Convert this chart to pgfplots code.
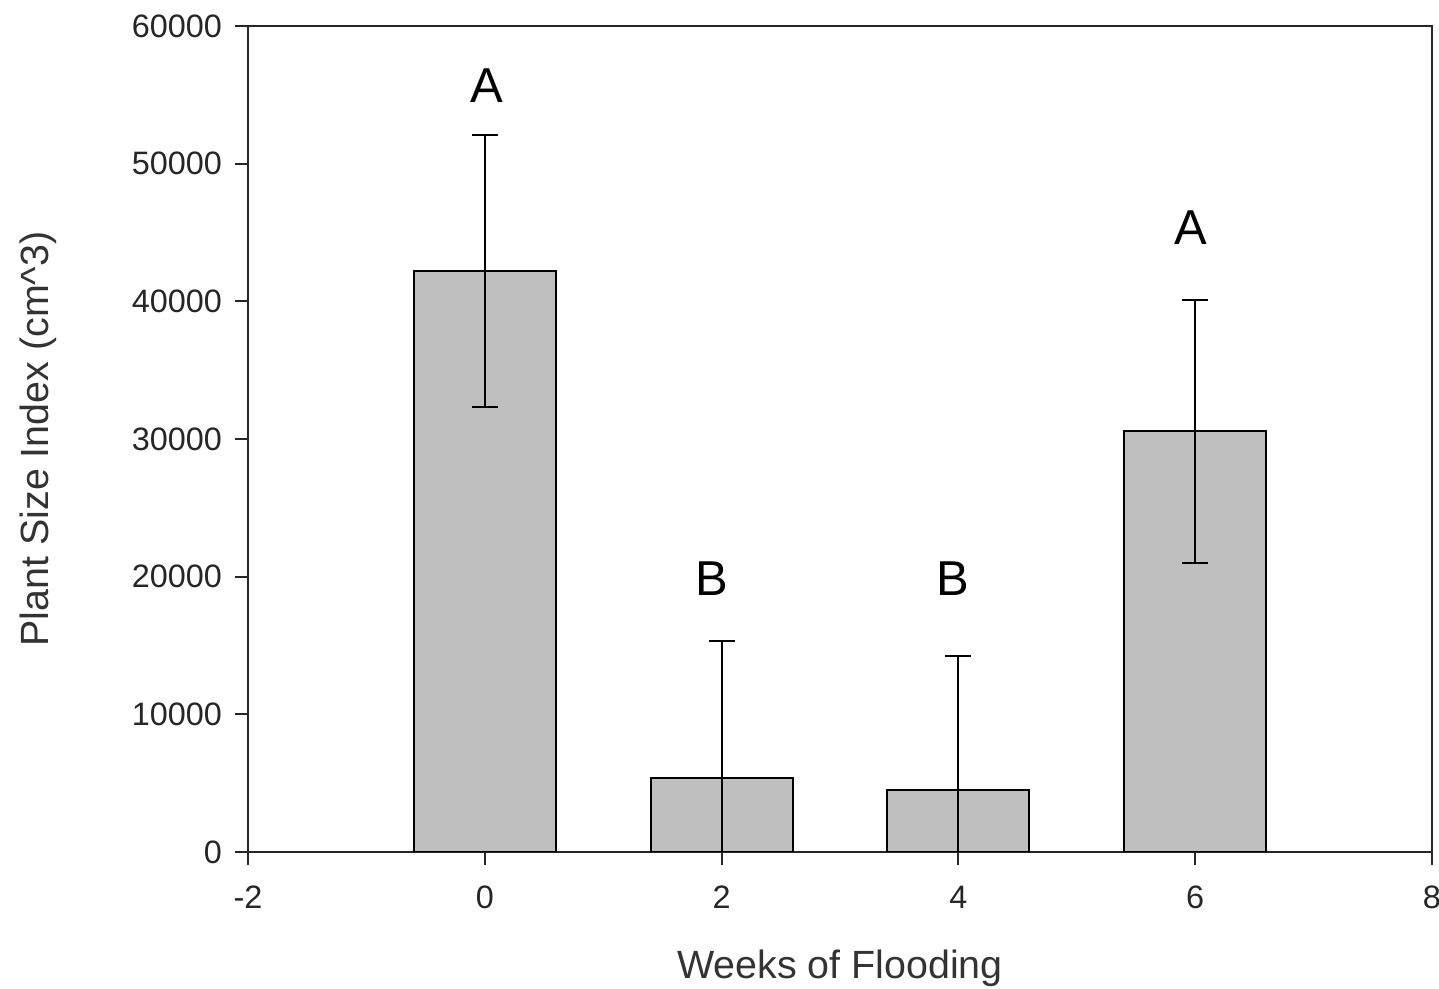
\documentclass[border=0pt]{standalone}
\usepackage{pgfplots}
\pgfplotsset{compat=1.18}
\usepackage{fontspec}
\setmainfont{Liberation Sans}
\begin{document}
\begin{tikzpicture}
\begin{axis}[
  name=ax,
  width=592pt, height=413pt,
  scale only axis,
  xmin=-2, xmax=8,
  ymin=0, ymax=60000,
  xtick={-2,0,2,4,6,8},
  ytick={0,10000,20000,30000,40000,50000,60000},
  scaled y ticks=false,
  /pgf/number format/assume math mode=true,
  yticklabel style={/pgf/number format/.cd, fixed, 1000 sep={}, /tikz/.cd, xshift=-3pt},
  xticklabel style={yshift=-7pt},
  tick label style={font=\fontsize{16.2pt}{19pt}\selectfont, color=black!85},
  tick align=outside,
  xtick pos=left, ytick pos=left,
  major tick length=6.5pt,
  axis line style={line width=1pt, black!85},
  every tick/.style={line width=1pt, black!85},
  label style={font=\fontsize{19.7pt}{23pt}\selectfont, color=black!80},
  xlabel={Weeks of Flooding},
  ylabel={Plant Size Index (cm\textasciicircum 3)},
  xlabel style={at={(axis description cs:0.5,-0.1404)}, anchor=center},
  ylabel style={at={(axis description cs:-0.1774,0.5)}, anchor=center, rotate=0},
  ybar, bar width=1.2,
]
\addplot[fill=black!25, draw=black, line width=1pt,
  error bars/.cd, y dir=both, y explicit,
  error bar style={line width=1pt, black},
  error mark options={rotate=90, mark size=6.5pt, line width=1pt, black}]
  table[x=x, y=y, y error plus=ep, y error minus=em] {
x y ep em
0 42200 9880 9880
2 5380 9950 9950
4 4500 9740 9740
6 30580 9520 9590
};
\node[font=\fontsize{24.5pt}{28pt}\selectfont] at (axis cs:0.02,55700) {A};
\node[font=\fontsize{24.5pt}{28pt}\selectfont] at (axis cs:1.92,19830) {B};
\node[font=\fontsize{24.5pt}{28pt}\selectfont] at (axis cs:3.95,19830) {B};
\node[font=\fontsize{24.5pt}{28pt}\selectfont] at (axis cs:5.96,45330) {A};
\end{axis}
\pgfresetboundingbox
\path ([xshift=-124pt,yshift=-68.5pt]ax.south west) rectangle ([xshift=3.5pt,yshift=13pt]ax.north east);
\end{tikzpicture}
\end{document}
